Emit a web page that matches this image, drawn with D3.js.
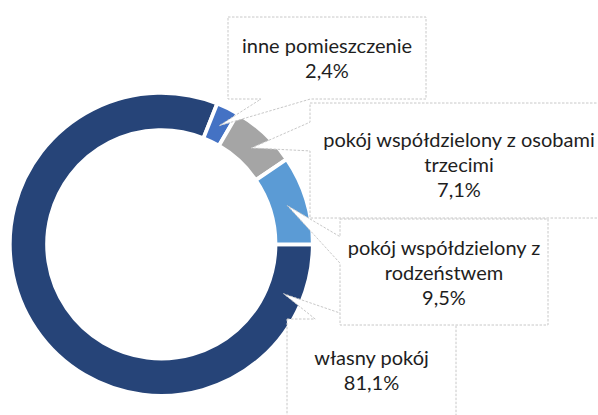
<!DOCTYPE html>
<html><head><meta charset="utf-8">
<script src="https://cdn.jsdelivr.net/npm/d3@7/dist/d3.min.js"></script>
<style>html,body{margin:0;padding:0;background:#fff;}svg{display:block;}</style>
</head><body>
<svg id="chart" width="598" height="415"></svg>
<script>
// ---- data ----
const categories = ["własny pokój", "inne pomieszczenie", "pokój współdzielony z osobami trzecimi", "pokój współdzielony z rodzeństwem"];
const values = [81.1, 2.4, 7.1, 9.5];
const labelLines = [["własny pokój"], ["inne pomieszczenie"], ["pokój współdzielony z osobami", "trzecimi"], ["pokój współdzielony z", "rodzeństwem"]];
const colors = ["#264478", "#4472C4", "#A5A5A5", "#5B9BD5"];

// ---- layout (label callout boxes: x, y, w, h, text centre y; tip angle override in degrees) ----
const boxes = [
  {x: 287, y: 319, w: 169, h: 102, ty: 370.5, tipDeg: 112},
  {x: 228, y: 17, w: 198, h: 82, ty: 58.5},
  {x: 310, y: 103, w: 298, h: 115, ty: 164.5},
  {x: 340, y: 219, w: 208, h: 106, ty: 273.3}
];
const drawOrder = [0, 3, 2, 1];

const cx = 161.3, cy = 244.3, rOuter = 151.5, rInner = 114.2;
const svg = d3.select("#chart");
const g = svg.append("g").attr("transform", `translate(${cx},${cy})`);

const pie = d3.pie().sort(null).value(d => d.value)
  .startAngle(Math.PI / 2).endAngle(Math.PI / 2 + 2 * Math.PI);
const data = categories.map((c, i) => ({cat: c, value: values[i], i}));
const arcs = pie(data);
const arc = d3.arc().innerRadius(rInner).outerRadius(rOuter);

g.selectAll("path.slice").data(arcs).join("path")
  .attr("class", "slice")
  .attr("d", arc)
  .attr("fill", d => colors[d.data.i])
  .attr("stroke", "#fff")
  .attr("stroke-width", 3.8);

const locale = d3.formatLocale({decimal: ",", thousands: " ", grouping: [3], currency: ["", " zł"]});
const fmt = locale.format(".1f");

const midR = (rOuter + rInner) / 2 - 1;
function tipPoint(a, b) {
  const ang = b.tipDeg != null ? b.tipDeg * Math.PI / 180 : (a.startAngle + a.endAngle) / 2;
  return [cx + midR * Math.sin(ang), cy - midR * Math.cos(ang)];
}

// OOXML wedgeRectCallout outline
function callout(b, px, py) {
  const {x, y, w, h} = b;
  const hc = x + w / 2, vc = y + h / 2;
  const dxPos = px - hc, dyPos = py - vc;
  const dq = dxPos * h / w;
  const dz = Math.abs(dyPos) - Math.abs(dq);
  const xg1 = dxPos > 0 ? 7 : 2, xg2 = dxPos > 0 ? 10 : 5;
  const yg1 = dyPos > 0 ? 7 : 2, yg2 = dyPos > 0 ? 10 : 5;
  const x1 = x + w * xg1 / 12, x2 = x + w * xg2 / 12;
  const y1 = y + h * yg1 / 12, y2 = y + h * yg2 / 12;
  const p = d3.path();
  p.moveTo(x, y);
  if (dz > 0 && dyPos < 0) { p.lineTo(x1, y); p.lineTo(px, py); p.lineTo(x2, y); }
  p.lineTo(x + w, y);
  if (dz < 0 && dxPos > 0) { p.lineTo(x + w, y1); p.lineTo(px, py); p.lineTo(x + w, y2); }
  p.lineTo(x + w, y + h);
  if (dz > 0 && dyPos > 0) { p.lineTo(x2, y + h); p.lineTo(px, py); p.lineTo(x1, y + h); }
  p.lineTo(x, y + h);
  if (dz < 0 && dxPos < 0) { p.lineTo(x, y2); p.lineTo(px, py); p.lineTo(x, y1); }
  p.closePath();
  return p.toString();
}

const fontSize = 20, lineH = 25;
const labels = svg.append("g");
drawOrder.forEach(i => {
  const a = arcs[i], b = boxes[i];
  const [px, py] = tipPoint(a, b);
  const lg = labels.append("g");
  lg.append("path")
    .attr("d", callout(b, px, py))
    .attr("fill", "#fff")
    .attr("stroke", "#C8C8C8")
    .attr("stroke-width", 1)
    .attr("stroke-dasharray", "2.5,1.5");
  const lines = labelLines[i].concat([fmt(values[i]) + "%"]);
  const tx = b.x + b.w / 2;
  const first = b.ty - (lines.length - 1) * lineH / 2 + 7;
  const t = lg.append("text")
    .attr("text-anchor", "middle")
    .attr("font-family", "Lato, 'Open Sans', sans-serif")
    .attr("font-size", fontSize)
    .attr("fill", "#1e1e1e");
  lines.forEach((ln, k) => {
    t.append("tspan").attr("x", tx).attr("y", first + k * lineH).text(ln);
  });
});
</script>
</body></html>
